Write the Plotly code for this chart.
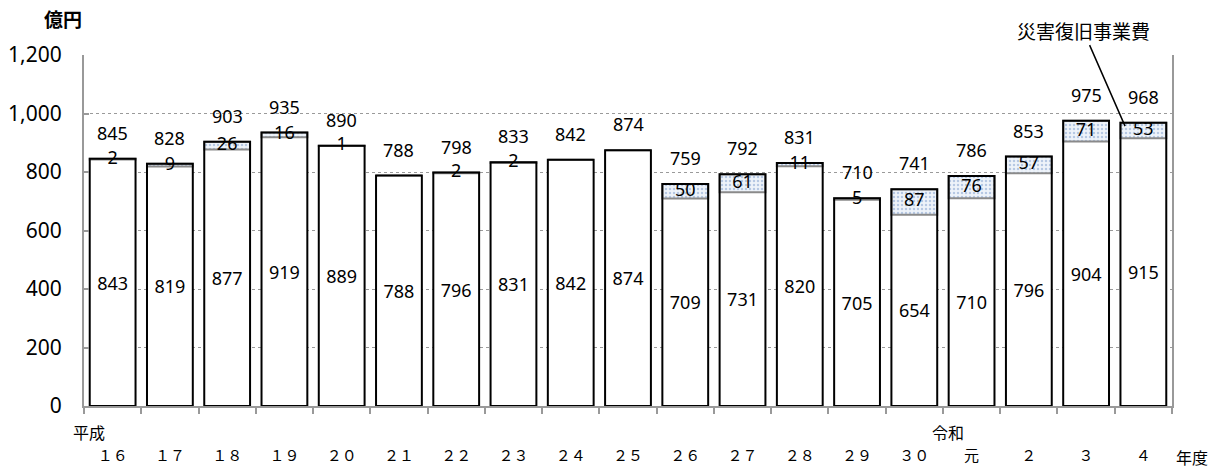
import plotly.graph_objects as go

# 年度 (fiscal years) and amounts in 億円
years = ["１６", "１７", "１８", "１９", "２０", "２１", "２２", "２３", "２４", "２５",
         "２６", "２７", "２８", "２９", "３０", "元", "２", "３", "４"]
base_cost = [843, 819, 877, 919, 889, 788, 796, 831, 842, 874,
             709, 731, 820, 705, 654, 710, 796, 904, 915]
disaster_cost = [2, 9, 26, 16, 1, 0, 2, 2, 0, 0,
                 50, 61, 11, 5, 87, 76, 57, 71, 53]
totals = [b + d for b, d in zip(base_cost, disaster_cost)]
y_ticks = [0, 200, 400, 600, 800, 1000, 1200]

NUM_FONT = "Noto Sans"
JP_FONT = "Noto Sans CJK JP"

fig = go.Figure()

# ordinary expenditure
fig.add_trace(go.Bar(
    x=years, y=base_cost,
    marker=dict(color="white", line=dict(width=0)),
    text=[str(v) for v in base_cost],
    textposition="inside", insidetextanchor="middle",
    textangle=0, constraintext="none",
    textfont=dict(family=NUM_FONT, size=18, color="black"),
    hoverinfo="skip", showlegend=False,
))

# disaster recovery expenditure, stacked on top of the ordinary part
fig.add_trace(go.Bar(
    x=years, y=disaster_cost, base=base_cost,
    marker=dict(
        color="#e6edf7",
        line=dict(color="#8a8a8a", width=2),
        pattern=dict(shape=".", fgcolor="#7d9ccc", bgcolor="#eef3fa",
                     size=4, solidity=0.3),
    ),
    hoverinfo="skip", showlegend=False,
))

# black outline of the whole bar
fig.add_trace(go.Bar(
    x=years, y=totals,
    marker=dict(color="rgba(0,0,0,0)", line=dict(color="black", width=2)),
    hoverinfo="skip", showlegend=False,
))

# labels of the disaster recovery part
fig.add_trace(go.Scatter(
    x=years,
    y=[b + d / 2 for b, d in zip(base_cost, disaster_cost)],
    mode="text",
    text=[str(d) if d > 0 else "" for d in disaster_cost],
    textposition="middle center",
    textfont=dict(family=NUM_FONT, size=18, color="black"),
    hoverinfo="skip", showlegend=False,
))

annotations = []
for yr, t in zip(years, totals):
    annotations.append(dict(
        x=yr, y=t, xref="x", yref="y", text=str(t), showarrow=False,
        yanchor="bottom", yshift=12,
        font=dict(family=NUM_FONT, size=18, color="black"),
    ))

# era names above the year labels
annotations.append(dict(x=0, y=0, xref="x", yref="paper", text="平成",
                        showarrow=False, xshift=-24, yshift=-26, yanchor="middle",
                        font=dict(family=JP_FONT, size=16, color="black")))
annotations.append(dict(x=15, y=0, xref="x", yref="paper", text="令和",
                        showarrow=False, xshift=-24, yshift=-26, yanchor="middle",
                        font=dict(family=JP_FONT, size=16, color="black")))
annotations.append(dict(x=1, y=0, xref="paper", yref="paper", text="年度",
                        showarrow=False, xanchor="left", xshift=2, yshift=-51,
                        yanchor="middle",
                        font=dict(family=JP_FONT, size=16, color="black")))
annotations.append(dict(x=0, y=1, xref="paper", yref="paper", text="<b>億円</b>",
                        showarrow=False, xanchor="right", xshift=0, yshift=37,
                        yanchor="middle",
                        font=dict(family=JP_FONT, size=19, color="black")))

# callout naming the disaster recovery part
annotations.append(dict(x=17.68, y=957, xref="x", yref="y", text="災害復旧事業費",
                        showarrow=True, arrowhead=0, arrowwidth=1.5, arrowcolor="black",
                        ax=-42, ay=-96,
                        font=dict(family=JP_FONT, size=19, color="black")))

fig.update_layout(
    width=1226, height=468,
    margin=dict(l=84, r=54, t=55, b=62),
    barmode="overlay", bargap=0.2,
    plot_bgcolor="white", paper_bgcolor="white",
    annotations=annotations,
    xaxis=dict(
        type="category", range=[-0.5, len(years) - 0.5], automargin=False,
        tickson="boundaries", ticks="outside", ticklen=6, tickcolor="#999999",
        tickwidth=1.5,
        showline=True, linecolor="#999999", linewidth=2,
        showgrid=False, zeroline=False,
        tickfont=dict(family=JP_FONT, size=15, color="black"),
        ticklabelstandoff=35,
    ),
    yaxis=dict(
        range=[0, 1200], tickvals=y_ticks, tickformat=",", automargin=False,
        ticks="inside", ticklen=5, tickcolor="#999999", tickwidth=1.5,
        showline=True, linecolor="#999999", linewidth=2, mirror=True,
        showgrid=True, gridcolor="#9a9a9a", griddash="dot", gridwidth=1,
        zeroline=False,
        tickfont=dict(family=NUM_FONT, size=21, color="black"),
        ticklabelstandoff=16,
    ),
)

fig.write_html("out.html")
